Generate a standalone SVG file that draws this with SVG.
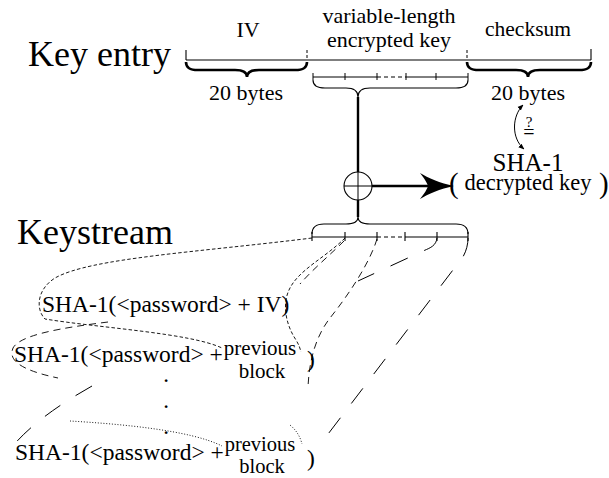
<svg xmlns="http://www.w3.org/2000/svg" width="609" height="478" viewBox="0 0 609 478" font-family="'Liberation Serif','Times New Roman',Tinos,'DejaVu Serif','Noto Serif',serif">
<defs>
<marker id="ah" viewBox="0 0 10 10" refX="9" refY="5" markerWidth="6" markerHeight="6" markerUnits="userSpaceOnUse" orient="auto-start-reverse"><path d="M0,1 L10,5 L0,9 Z" fill="#000"/></marker>
</defs>
<style>
text{font-family:'Liberation Serif','Times New Roman',Tinos,'DejaVu Serif','Noto Serif',serif;fill:#000}
.ln{fill:none;stroke:#000;stroke-width:1.1}
.thin{fill:none;stroke:#000;stroke-width:1}
.thick{fill:none;stroke:#000;stroke-width:2.4}
.brace{fill:none;stroke:#000;stroke-width:2.6}
.tbrace{fill:none;stroke:#000;stroke-width:1.1}
.dtick{fill:none;stroke:#000;stroke-width:1;stroke-dasharray:3 2}
.mid{fill:none;stroke:#000;stroke-width:1.1;stroke-dasharray:4 3}
.fine{fill:none;stroke:#000;stroke-width:0.9;stroke-dasharray:3.5 2.2}
.med{fill:none;stroke:#000;stroke-width:0.9;stroke-dasharray:7 5}
.long{fill:none;stroke:#000;stroke-width:1;stroke-dasharray:19 18}
.dot{fill:none;stroke:#000;stroke-width:0.9;stroke-dasharray:1 1.8}
</style>

<g id="key-entry-label"><text x="28" y="66" font-size="36">Key entry</text></g>

<g id="key-entry-bar">
<path class="ln" d="M186,60 H591 M186,50 V60 M591,49 V60"/>
<path class="dtick" d="M307,50 V60 M467,50 V60"/>
</g>

<g id="iv-field">
<text x="248" y="37" font-size="22" text-anchor="middle">IV</text>
<path class="brace" d="M186,62 C186,68 190,70 198,70 L235,70 C243,70 247,72 247,77 C247,72 251,70 259,70 L295,70 C303,70 307,68 307,62"/>
<text x="246" y="100" font-size="22" text-anchor="middle">20 bytes</text>
</g>

<g id="key-field">
<text x="389" y="23" font-size="22" text-anchor="middle">variable-length</text>
<text x="389" y="47" font-size="22" text-anchor="middle">encrypted key</text>
<path class="thin" d="M313,77 H377 M406,77 H468"/>
<path class="mid" d="M377,77 H406"/>
<path class="thin" d="M313,73 V80 M345,73 V80 M377,73 V80 M406,73 V80 M436,73 V80 M468,73 V80"/>
<path class="tbrace" d="M313,80 C313,86 317,88 325,88 L346,88 C354,88 358,91 358,97 C358,91 362,88 370,88 L456,88 C464,88 468,86 468,80"/>
</g>

<g id="checksum-field">
<text x="528" y="36" font-size="21.5" text-anchor="middle">checksum</text>
<path class="brace" d="M467,62 C467,68 471,70 479,70 L516,70 C524,70 528,72 528,77 C528,72 532,70 540,70 L579,70 C587,70 591,68 591,62"/>
<text x="528" y="100" font-size="22" text-anchor="middle">20 bytes</text>
</g>

<g id="check-compare">
<text font-size="15" text-anchor="middle"><tspan x="529" y="127">?</tspan><tspan x="529" y="139" font-size="20">=</tspan></text>
</g>

<g id="xor">
<circle cx="358" cy="186" r="14" fill="none" stroke="#000" stroke-width="1.1"/>
<path class="thin" d="M344,186 H372 M358,172 V200"/>
</g>

<g id="sha1-decrypted">
<text font-size="22.5"><tspan x="528" y="171" font-size="25" text-anchor="middle">SHA-1</tspan><tspan x="449" y="193" font-size="29">(</tspan><tspan x="528" y="190" text-anchor="middle">decrypted key</tspan><tspan x="599" y="193" font-size="29">)</tspan></text>
</g>

<g id="keystream-label"><text x="17" y="244" font-size="36">Keystream</text></g>

<g id="keystream-bar">
<path class="tbrace" d="M312,234 C312,227 316,224 324,224 L346,224 C354,224 358,222 358,217 C358,222 362,224 370,224 L456,224 C464,224 468,227 468,234"/>
<path class="ln" d="M312,237 H377 M405,237 H468"/>
<path class="mid" d="M377,237 H405"/>
<path class="ln" d="M312,232 V241 M345,232 V241 M377,232 V241 M405,232 V241 M437,232 V241 M468,232 V241"/>
</g>

<g id="block1">
<text x="42" y="312" font-size="23.5">SHA-1(&lt;password&gt; + IV)</text>
</g>

<g id="block2">
<text x="14" y="362" font-size="23.5">SHA-1(&lt;password&gt; +</text>
<text font-size="21" text-anchor="middle"><tspan x="260" y="354.5">previous</tspan><tspan x="262" y="377.5">block</tspan></text>
<text x="307" y="367" font-size="23.5">)</text>
</g>

<g id="vdots">
<text font-size="17" font-weight="bold" text-anchor="middle"><tspan x="166" y="382">.</tspan><tspan x="166" y="408">.</tspan><tspan x="166" y="434">.</tspan></text>
</g>

<g id="block3">
<text x="15" y="460" font-size="23.5">SHA-1(&lt;password&gt; +</text>
<text font-size="20.5" text-anchor="middle"><tspan x="260" y="451">previous</tspan><tspan x="262" y="473">block</tspan></text>
<text x="307" y="466" font-size="23.5">)</text>
</g>

<g id="connectors">
<path class="thick" d="M358,97 V172 M358,200 V217 M372,186 H430"/>
<path d="M454,186 C440,183 428,178 420,173 C425,179 427,183 428,186 C427,189 425,193 420,199 C428,194 440,189 454,186 Z" fill="#000"/>
<path class="thin" d="M523,105 C512,116 511,138 524,149" marker-start="url(#ah)" marker-end="url(#ah)"/>
<path class="fine" d="M312,238 C200,252 90,258 55,278 C36,290 36,310 45,319 C100,328 190,333 222,348"/>
<path class="fine" d="M345,238 C325,258 298,270 289,290 C282,305 286,325 296,340 C299,345 300,348 301,352"/>
<path class="med" d="M344,241 C330,255 312,270 300,284"/>
<path class="med" d="M108,322 C60,328 20,335 13,348 C8,360 20,370 58,378"/>
<path class="med" d="M377,239 C370,262 350,293 330,318 C316,336 309,360 308,388"/>
<path class="long" d="M437,238 C436,246 430,248 423,251 L358,281"/>
<path class="long" d="M468,238 C468,248 464,258 456,266 L322,442"/>
<path class="long" d="M92,386 C60,404 30,425 12,447"/>
<path class="dot" d="M70,421 C120,424 190,430 222,446"/>
<path class="dot" d="M290,425 C296,430 300,436 302,444"/>
</g>
</svg>
